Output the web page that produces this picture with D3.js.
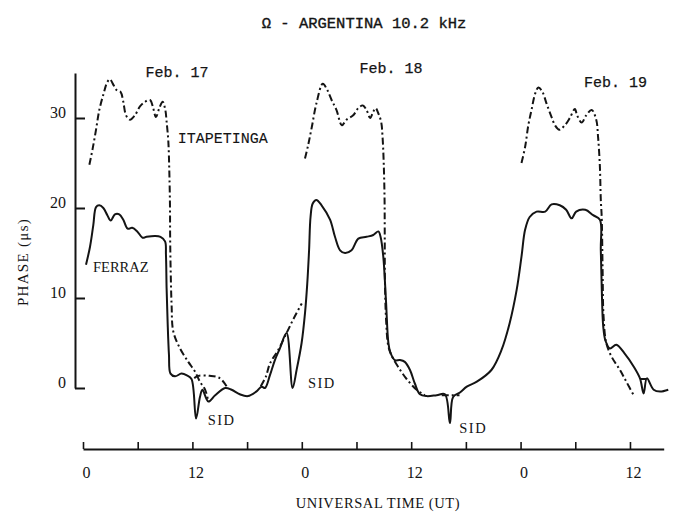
<!DOCTYPE html>
<html><head><meta charset="utf-8">
<script src="https://cdn.jsdelivr.net/npm/d3@7"></script>
<style>body{margin:0;background:#fff} svg{display:block}</style>
</head><body>
<svg id="c" width="676" height="514"></svg>
<script>
// ---- data: [hour UT (continuous from Feb 17 00h), phase in microseconds] ----
const ferraz = [[0.33,13.7],[0.77,15.7],[1.13,18.1],[1.43,20.1],[1.79,20.3],[2.23,20.0],[2.67,19.2],[3.04,18.6],[3.5,19.3],[3.98,19.3],[4.42,18.7],[4.9,17.7],[5.4,17.8],[5.95,17.4],[6.53,16.7],[6.97,16.8],[7.9,16.9],[8.5,16.8],[9.0,16.3],[9.1,14.8],[9.17,11.1],[9.28,7.4],[9.43,3.7],[9.6,1.6],[10.1,1.3],[10.8,1.6],[11.4,1.4],[11.9,1.0],[12.4,-3.4],[12.83,-1.0],[13.1,-0.2],[13.75,-1.5],[14.5,-0.8],[15.6,0.0],[16.3,-0.2],[17.2,-0.7],[18.1,-0.9],[19.0,-0.4],[19.6,0.15],[19.96,0.0],[20.5,1.4],[21.05,3.1],[21.6,4.4],[22.33,6.1],[22.99,0.0],[23.43,2.0],[23.98,5.0],[24.35,8.3],[24.6,11.6],[24.8,15.3],[24.96,19.0],[25.2,20.5],[25.6,20.9],[26.17,20.3],[27.1,18.7],[27.64,16.8],[28.2,15.3],[28.74,15.0],[29.46,15.3],[30.2,16.6],[31.1,16.8],[31.84,17.0],[32.4,17.4],[32.64,16.8],[32.94,14.6],[33.23,9.8],[33.5,5.0],[33.7,4.0],[34.2,3.1],[34.77,3.1],[35.3,2.9],[35.87,2.0],[36.4,0.5],[36.96,-0.7],[37.7,-0.9],[38.8,-0.8],[39.7,-0.7],[40.25,-3.9],[40.6,-1.0],[41.35,-0.5],[42.1,0.15],[43.2,0.7],[44.8,2.0],[45.9,4.2],[46.8,7.2],[47.57,10.9],[48.1,14.6],[48.5,17.6],[49.0,19.0],[49.75,19.6],[50.7,19.6],[51.4,20.4],[52.3,20.3],[53.0,19.8],[53.6,18.85],[54.1,19.6],[55.1,19.8],[55.96,19.2],[56.7,18.7],[56.8,15.3],[57.0,7.9],[57.07,6.8],[57.3,5.3],[57.8,4.4],[58.5,4.8],[59.4,3.85],[60.4,2.4],[61.1,1.07],[61.5,-0.6],[61.85,1.07],[62.6,-0.2],[63.3,-0.4],[64.2,-0.2]];

const itapetingaFeb17 = [[0.7,24.8],[1.06,26.6],[1.43,28.7],[1.79,30.9],[2.23,32.6],[2.67,34.0],[2.96,34.3],[3.25,33.85],[3.69,33.1],[4.12,32.9],[4.42,31.8],[4.72,30.3],[5.15,29.8],[5.7,30.3],[6.25,31.3],[6.8,31.8],[7.35,32.0],[7.7,31.1],[8.0,30.1],[8.37,31.1],[8.74,31.8],[9.03,30.9],[9.17,29.6],[9.36,27.4],[9.47,24.0],[9.54,20.3],[9.56,16.6],[9.62,12.9],[9.72,9.2],[9.9,6.3],[10.64,4.4],[11.55,2.9],[12.3,1.8],[12.83,0.7],[13.4,-0.2],[13.75,-1.5]];
const itapetingaArc17 = [[12.2,1.1],[12.65,1.35],[13.9,1.35],[15.0,1.1],[15.75,0.2]];
const itapetingaNight17 = [[19.5,0.2],[20.07,1.3],[20.5,2.7],[21.4,4.2],[22.33,6.1],[23.1,7.7],[24.0,9.4]];
const itapetingaFeb18 = [[24.35,25.5],[24.7,27.0],[25.1,29.0],[25.6,31.6],[26.3,33.8],[26.8,33.1],[27.27,32.0],[27.8,30.9],[28.4,29.2],[28.9,29.8],[29.64,30.3],[30.2,31.1],[30.7,31.4],[31.1,30.9],[31.5,30.0],[31.84,30.7],[32.1,31.1],[32.4,30.5],[32.7,29.6],[32.86,27.9],[33.0,24.6],[33.08,20.9],[33.1,16.8],[33.12,12.0],[33.25,7.5],[33.5,4.6],[33.9,3.5],[34.6,2.3],[35.5,1.0],[36.6,-0.2],[37.5,-0.8]];
const itapetingaSid18 = [[39.35,-0.8],[41.3,-0.8]];
const itapetingaFeb19 = [[48.1,25.0],[48.5,26.8],[48.85,29.2],[49.2,30.9],[49.6,32.7],[49.96,33.4],[50.4,32.9],[50.85,31.6],[51.4,30.1],[51.77,29.2],[52.25,28.7],[52.86,29.2],[53.4,30.0],[53.96,31.0],[54.2,30.3],[54.7,29.5],[55.2,30.3],[55.8,30.9],[56.3,29.8],[56.5,27.9],[56.7,24.6],[56.8,20.9],[56.9,19.0],[57.0,13.0],[57.1,8.0],[57.4,5.0],[57.97,3.5],[58.9,2.0],[59.6,0.7],[60.4,-0.8]];
const itapetingaSid19 = [[61.2,1.0],[61.8,1.0]];

const xTickHours = [0,6,12,18,24,30,36,42,48,54,60];
const xTickLabels = ["0","","12","","0","","12","","0","","12"];
const yTickValues = [0,10,20,30];
const dayLabels = [{t:"Feb. 17",h:10.3,v:34.6},{t:"Feb. 18",h:33.8,v:35.0},{t:"Feb. 19",h:58.4,v:33.4}];
const sidLabels = [{h:15.2,v:-4.1},{h:26.2,v:0.0},{h:42.8,v:-5.0}];

// ---- chart ----
const svg = d3.select("#c");
const x = d3.scaleLinear().domain([0,63.7]).range([83,663.7]);
const y = d3.scaleLinear().domain([0,35]).range([388,73]);
const ink = "#141414";
const serif = "'Liberation Serif','DejaVu Serif',serif";
const mono = "'Liberation Mono','DejaVu Sans Mono',monospace";

svg.append("text").attr("x",364).attr("y",28).attr("text-anchor","middle")
  .attr("font-family",mono).attr("font-size",15.5).attr("fill",ink)
  .attr("stroke",ink).attr("stroke-width",0.35)
  .text("\u03A9 - ARGENTINA 10.2 kHz");

// y axis
const gy = svg.append("g").attr("transform","translate(75,0)")
  .call(d3.axisLeft(y).tickValues(yTickValues).tickSize(-10).tickSizeOuter(0).tickPadding(9));
gy.select(".domain").attr("stroke",ink).attr("stroke-width",2);
gy.selectAll(".tick line").attr("stroke",ink).attr("stroke-width",2);
gy.selectAll(".tick text").attr("font-family",serif).attr("font-size",16).attr("fill",ink)
  .attr("dy","-0.05em");

// x axis
const gx = svg.append("g").attr("transform","translate(0,449)")
  .call(d3.axisBottom(x).tickValues(xTickHours).tickSize(-7).tickSizeOuter(0)
    .tickFormat((d,i)=>xTickLabels[i]));
gx.select(".domain").attr("stroke",ink).attr("stroke-width",2);
gx.selectAll(".tick line").attr("stroke",ink).attr("stroke-width",1.6);
gx.selectAll(".tick text").attr("font-family",serif).attr("font-size",16).attr("fill",ink)
  .attr("y",29).attr("dy",0).attr("dx",3);

svg.append("text").attr("x",378).attr("y",508).attr("text-anchor","middle")
  .attr("font-family",serif).attr("font-size",14.5).attr("letter-spacing",0.6).attr("fill",ink)
  .text("UNIVERSAL TIME (UT)");
svg.append("text").attr("transform","translate(28,262) rotate(-90)").attr("text-anchor","middle")
  .attr("font-family",serif).attr("font-size",15).attr("letter-spacing",1.3).attr("fill",ink)
  .text("PHASE (\u03BCs)");

// lines
const line = d3.line().x(d=>x(d[0])).y(d=>y(d[1])).curve(d3.curveCatmullRom.alpha(0.5));
svg.append("path").datum(ferraz).attr("d",line).attr("fill","none")
  .attr("stroke",ink).attr("stroke-width",2).attr("stroke-linejoin","round");
[itapetingaFeb17,itapetingaArc17,itapetingaNight17,itapetingaFeb18,itapetingaSid18,itapetingaFeb19,itapetingaSid19]
  .forEach(seg=>{
    svg.append("path").datum(seg).attr("d",line).attr("fill","none")
      .attr("stroke",ink).attr("stroke-width",2).attr("stroke-dasharray","7,3,2,3");
  });

// annotations
svg.append("text").attr("x",x(10.4)).attr("y",y(27.2)).attr("font-family",mono)
  .attr("font-size",15).attr("fill",ink).attr("stroke",ink).attr("stroke-width",0.1).text("ITAPETINGA");
svg.append("text").attr("x",x(1.1)).attr("y",y(12.9)).attr("font-family",serif)
  .attr("font-size",14.5).attr("fill",ink).text("FERRAZ");
dayLabels.forEach(d=>svg.append("text").attr("x",x(d.h)).attr("y",y(d.v)).attr("text-anchor","middle")
  .attr("font-family",mono).attr("font-size",15).attr("fill",ink)
  .attr("stroke",ink).attr("stroke-width",0.25).text(d.t));
sidLabels.forEach(d=>svg.append("text").attr("x",x(d.h)).attr("y",y(d.v)).attr("text-anchor","middle")
  .attr("font-family",serif).attr("font-size",14.5).attr("letter-spacing",1.5).attr("fill",ink).text("SID"));
</script>
</body></html>
